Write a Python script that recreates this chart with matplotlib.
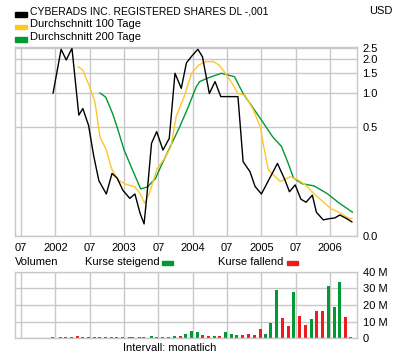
import matplotlib
matplotlib.use("Agg")
import matplotlib.pyplot as plt
from matplotlib.patches import Rectangle

plt.rcParams['font.family'] = ['Liberation Sans', 'DejaVu Sans']
plt.rcParams['font.size'] = 8

# x values are months counted from Jan 2001 (0 = Jan 2001, 12 = Jan 2002 ...)
price_month = [11.6, 13.0, 13.9, 14.9, 16.1, 16.8, 17.8, 18.7, 19.6, 20.9, 21.9, 22.8,
               23.8, 25.0, 25.9, 26.8, 27.5, 28.0, 28.8, 29.7, 30.8, 31.9, 32.9, 34.0,
               34.9, 35.8, 36.9, 37.7, 38.9, 39.9, 40.9, 43.9, 44.8, 46.0, 46.9, 48.0,
               50.8, 52.1, 52.9, 53.9, 54.9, 55.8, 56.9, 57.6, 58.8, 59.9, 60.8, 61.7,
               62.9, 63.8]
price = [1.00, 2.42, 1.95, 2.47, 0.64, 0.73, 0.52, 0.28, 0.17, 0.13, 0.197, 0.179,
         0.140, 0.119, 0.130, 0.088, 0.071, 0.127, 0.362, 0.458, 0.316, 0.40, 1.49, 1.10,
         1.84, 2.10, 2.42, 2.08, 0.99, 1.26, 0.93, 0.93, 0.25, 0.204, 0.151, 0.130,
         0.241, 0.173, 0.136, 0.156, 0.117, 0.110, 0.127, 0.090, 0.077, 0.079, 0.080, 0.085,
         0.079, 0.074]

avg100_month = [16.0, 16.8, 18.0, 18.9, 19.8, 20.9, 21.8, 23.0, 24.2, 25.9, 26.8, 27.6,
                28.4, 29.8, 31.3, 32.2, 33.1, 34.6, 35.8, 37.0, 38.1, 39.6, 40.6, 41.5,
                42.7, 43.9, 45.1, 46.6, 47.8, 48.4, 49.2, 51.3, 53.0, 54.2, 55.7, 57.2,
                58.1, 60.1, 61.9, 63.1, 63.8]
avg100 = [1.70, 1.59, 1.13, 0.84, 0.41, 0.317, 0.218, 0.172, 0.159, 0.150, 0.131, 0.108,
          0.131, 0.218, 0.276, 0.34, 0.62, 0.96, 1.49, 1.75, 1.88, 1.89, 1.76, 1.54,
          1.26, 0.99, 0.96, 0.71, 0.505, 0.34, 0.212, 0.167, 0.184, 0.175, 0.156, 0.131,
          0.119, 0.097, 0.088, 0.080, 0.079]

avg200_month = [19.8, 20.8, 22.0, 22.8, 24.0, 25.5, 26.9, 28.1, 29.5, 30.4, 32.1, 33.6,
                35.1, 36.6, 37.2, 38.9, 41.0, 43.3, 44.8, 47.6, 50.0, 51.5, 52.7, 53.6,
                55.1, 57.2, 59.5, 61.6, 63.9]
avg200 = [1.00, 0.92, 0.66, 0.50, 0.317, 0.21, 0.144, 0.150, 0.178, 0.225, 0.34, 0.49,
          0.73, 1.13, 1.26, 1.37, 1.49, 1.39, 0.99, 0.62, 0.41, 0.34, 0.24, 0.18,
          0.16, 0.153, 0.131, 0.108, 0.090]

vol_month = [11.4, 12.8, 13.7, 14.7, 15.8, 16.7, 17.7, 18.8, 19.6, 20.7, 21.7, 22.6,
             23.7, 24.9, 25.4, 26.6, 27.3, 28.7, 29.6, 30.7, 31.7, 32.8, 33.8, 34.7,
             35.7, 36.8, 37.6, 38.7, 39.7, 40.6, 41.7, 42.7, 43.6, 44.6, 45.7, 46.7,
             47.8, 48.7, 49.5, 50.6, 51.6, 52.7, 53.6, 54.6, 55.7, 56.7, 57.6, 58.6,
             59.7, 60.6, 61.6, 62.6, 63.5]
vol = [0.8, 0.8, 0.8, 0.8, 1.4, 0.8, 0.8, 0.8, 0.8, 0.8, 0.8, 0.8,
       0.8, 0.8, 0.8, 0.8, 0.8, 1.4, 0.8, 0.8, 0.8, 1.4, 1.4, 2.6,
       4.4, 3.8, 2.0, 1.4, 1.4, 1.4, 3.8, 2.6, 2.0, 2.0, 2.6, 2.0,
       5.6, 2.6, 9.2, 29.0, 12.2, 7.4, 27.8, 13.4, 8.0, 11.6, 16.4, 16.4,
       31.4, 18.8, 33.8, 12.8, 0.8]
# g = Kurse steigend, r = Kurse fallend
vol_up = "ggrgrgrrrrgrrrgrrggrggrggg" + "rrgrgggrrrrgggrrgrrgrrgggrr"

tick_pos = [6, 12, 18, 24, 30, 36, 42, 48, 54, 60]
tick_lab = ['07', '2002', '07', '2003', '07', '2004', '07', '2005', '07', '2006']

price_ticks = [0.0556, 0.5, 1.0, 1.5, 2.0, 2.5]
price_lab = ['0.0', '0.5', '1.0', '1.5', '2.0', '2.5']
vol_ticks = [0, 10, 20, 30, 40]
vol_lab = ['0', '10 M', '20 M', '30 M', '40 M']

BLACK = '#000000'
YELLOW = '#FFC726'
GREEN = '#009933'
RED = '#EE1C1C'
GRID = '#C8C8C8'

W, H = 400, 357
fig = plt.figure(figsize=(W / 100, H / 100), dpi=100)


def fx(px):
    return px / W


def fy(py):
    return 1 - py / H


def style_axes(ax):
    ax.grid(True, color=GRID, linewidth=1.0)
    ax.set_axisbelow(True)
    for s in ax.spines.values():
        s.set_color(GRID)
        s.set_linewidth(1.0)
    ax.yaxis.tick_right()
    ax.tick_params(length=0, labelsize=8, colors='#000000')
    ax.set_xticks(tick_pos)
    ax.set_xlim(5.0, 64.7)


# price panel
ax = fig.add_axes([fx(15.3), fy(236), fx(357 - 15.3), (236 - 46.7) / H])
style_axes(ax)
ax.set_yscale('log')
ax.set_ylim(0.0556, 2.55)
ax.set_yticks(price_ticks)
ax.set_yticklabels(price_lab)
ax.yaxis.set_minor_locator(matplotlib.ticker.NullLocator())
ax.set_xticklabels(tick_lab)
ax.tick_params(axis='y', pad=4)
ax.tick_params(axis='x', pad=5)
ax.plot(avg200_month, avg200, color=GREEN, lw=1.0)
ax.plot(avg100_month, avg100, color=YELLOW, lw=1.0)
ax.plot(price_month, price, color=BLACK, lw=1.0)

# volume panel
axv = fig.add_axes([fx(15.3), fy(338.3), fx(357 - 15.3), (338.3 - 271.7) / H])
style_axes(axv)
axv.set_ylim(0, 40)
axv.set_yticks(vol_ticks)
axv.set_yticklabels(vol_lab)
axv.set_xticklabels([])
axv.tick_params(axis='y', pad=4)
cols = [GREEN if c == 'g' else RED for c in vol_up]
axv.vlines(vol_month, 0, vol, colors=cols, linewidth=0.75, antialiased=False)

# header legend
items = [("CYBERADS INC. REGISTERED SHARES DL -,001", BLACK, 11.5, 7.5),
         ("Durchschnitt 100 Tage", YELLOW, 24, 8),
         ("Durchschnitt 200 Tage", GREEN, 36.5, 8)]
for label, col, yc, fs in items:
    fig.patches.append(Rectangle((fx(15), fy(yc + 5)), fx(12), 4.5 / H,
                                 transform=fig.transFigure, color=col))
    fig.text(fx(30), fy(yc), label, va='center', ha='left', fontsize=fs)
fig.text(fx(393), fy(11.5), "USD", va='center', ha='right', fontsize=8)

# volume header
fig.text(fx(15), fy(262), "Volumen", va='center', ha='left', fontsize=8)
fig.text(fx(85), fy(262), "Kurse steigend", va='center', ha='left', fontsize=8)
fig.patches.append(Rectangle((fx(162), fy(265)), fx(11), 4.5 / H,
                             transform=fig.transFigure, color=GREEN))
fig.text(fx(218), fy(262), "Kurse fallend", va='center', ha='left', fontsize=8)
fig.patches.append(Rectangle((fx(287), fy(265)), fx(11), 4.5 / H,
                             transform=fig.transFigure, color=RED))
fig.text(fx(170), fy(348), "Intervall: monatlich", va='center', ha='center', fontsize=8)

fig.savefig("out.png", dpi=100)
